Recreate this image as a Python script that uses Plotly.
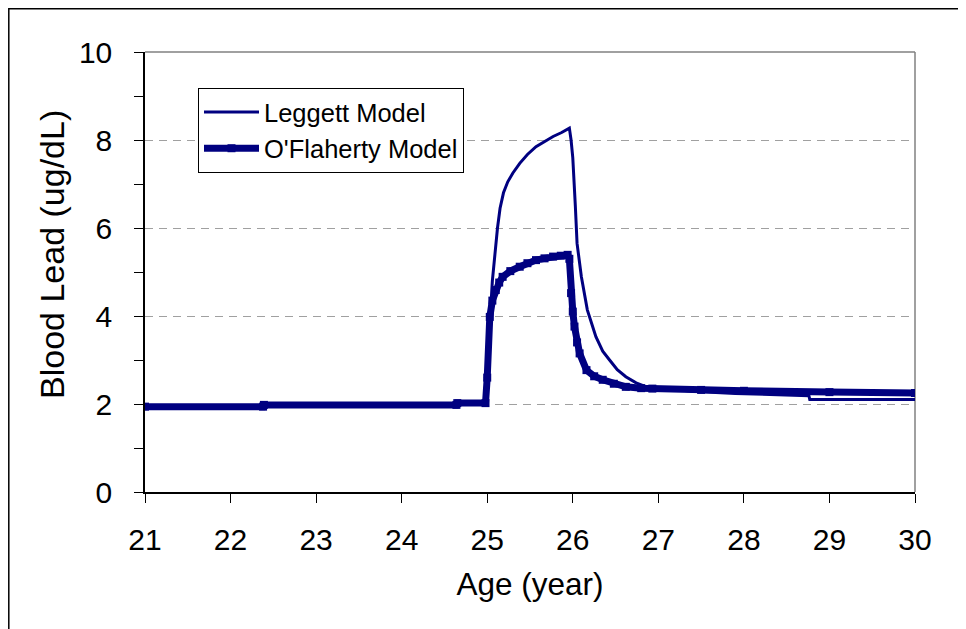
import plotly.graph_objects as go

# Leggett Model
leggett_age = [21, 22.38, 22.39, 24.64, 24.65, 24.98, 25.0, 25.03, 25.06, 25.09, 25.12, 25.15, 25.19, 25.24,
               25.3, 25.38, 25.47, 25.57, 25.67, 25.77, 25.87, 25.96, 25.98, 26.0, 26.03, 26.05, 26.1,
               26.17, 26.27, 26.35, 26.43, 26.52, 26.62, 26.74, 26.86, 27.0, 27.5, 27.9, 28.76, 28.77, 30]
leggett_pb = [1.94, 1.94, 1.98, 1.98, 2.02, 2.02, 2.3, 3.8, 4.8, 5.45, 6.0, 6.45, 6.8, 7.05,
              7.25, 7.47, 7.67, 7.85, 7.97, 8.08, 8.17, 8.27, 8.0, 7.6, 6.5, 5.65, 4.9,
              4.14, 3.53, 3.2, 3.0, 2.78, 2.62, 2.48, 2.39, 2.35, 2.28, 2.24, 2.19, 2.1, 2.1]

# O'Flaherty Model
oflaherty_age = [21, 22.38, 22.39, 24.64, 24.65, 24.98, 25.0, 25.03, 25.06, 25.1, 25.14, 25.18, 25.27,
                 25.38, 25.47, 25.57, 25.67, 25.77, 25.86, 25.94, 25.96, 25.98, 26.0, 26.02, 26.05,
                 26.08, 26.16, 26.25, 26.35, 26.48, 26.62, 26.8, 26.93, 27.5, 28.0, 29.0, 30]
oflaherty_pb = [1.94, 1.94, 1.98, 1.98, 2.02, 2.02, 2.6, 3.98, 4.35, 4.59, 4.76, 4.89, 5.02,
                5.12, 5.2, 5.27, 5.31, 5.35, 5.37, 5.39, 5.3, 4.52, 4.1, 3.76, 3.4,
                3.15, 2.77, 2.63, 2.55, 2.46, 2.39, 2.36, 2.35, 2.32, 2.3, 2.27, 2.25]

x_ticks = [21, 22, 23, 24, 25, 26, 27, 28, 29, 30]
y_ticks = [0, 2, 4, 6, 8, 10]

NAVY = "#000080"
FONT = "Liberation Sans, Arial, sans-serif"

fig = go.Figure()
fig.add_trace(go.Scatter(x=leggett_age, y=leggett_pb, mode="lines", name="Leggett Model",
                         line=dict(color=NAVY, width=3)))
fig.add_trace(go.Scatter(x=oflaherty_age, y=oflaherty_pb, mode="lines+markers", name="O'Flaherty Model",
                         line=dict(color=NAVY, width=7),
                         marker=dict(symbol="square", size=8, color=NAVY)))

# page body has an 8px margin; figure origin sits at page (8, 8)
OFF = 8
W, H = 966 - OFF, 629 - OFF
L, T = 145 - OFF, 52 - OFF
PW, PH = 770, 440
R, B = W - L - PW, H - T - PH


def px(xp):  # page x -> paper x
    return (xp - OFF - L) / PW


def py(yp):  # page y -> paper y
    return (T + PH - (yp - OFF)) / PH


fig.update_layout(
    width=W, height=H,
    margin=dict(l=L, r=R, t=T, b=B),
    paper_bgcolor="white", plot_bgcolor="white",
    font=dict(family=FONT, color="black"),
    showlegend=True,
    legend=dict(x=px(198), y=py(88), xanchor="left", yanchor="top",
                bgcolor="white", bordercolor="black", borderwidth=1,
                font=dict(size=25.5, family=FONT), itemwidth=55,
                tracegroupgap=2),
    xaxis=dict(range=[21, 30], tickvals=x_ticks, ticktext=[str(v) for v in x_ticks],
               showgrid=False, zeroline=False, showline=True, linecolor="black", linewidth=1.5,
               ticks="outside", ticklen=9, tickcolor="black", tickwidth=1,
               tickfont=dict(size=30), ticklabelstandoff=11,
               title=dict(text="Age (year)", font=dict(size=31.5), standoff=18)),
    yaxis=dict(range=[0, 10], tickvals=y_ticks, ticktext=[str(v) for v in y_ticks],
               showgrid=True, gridcolor="#a0a0a0", griddash="8px,6px", gridwidth=1,
               zeroline=False, showline=True, linecolor="black", linewidth=1.5,
               ticks="outside", ticklen=9, tickcolor="black", tickwidth=1,
               tickfont=dict(size=30), ticklabelstandoff=16,
               minor=dict(dtick=1, ticks="outside", ticklen=9, tickcolor="black", showgrid=False)),
    shapes=[
        dict(type="line", xref="paper", yref="paper", x0=0, x1=1, y0=1, y1=1,
             line=dict(color="#808080", width=1.5), layer="below"),
        dict(type="line", xref="paper", yref="paper", x0=1, x1=1, y0=0, y1=1,
             line=dict(color="#808080", width=1.5), layer="below"),
        dict(type="rect", xref="paper", yref="paper",
             x0=px(8.8), x1=px(1000), y0=py(700), y1=py(8.8),
             line=dict(color="black", width=1.5)),
    ],
    annotations=[
        dict(text="Blood Lead (ug/dL)", xref="paper", yref="paper",
             x=px(52), y=py(255), xanchor="center", yanchor="middle",
             textangle=-90, showarrow=False, font=dict(size=34, family=FONT)),
    ],
)

fig.write_html("out.html")
